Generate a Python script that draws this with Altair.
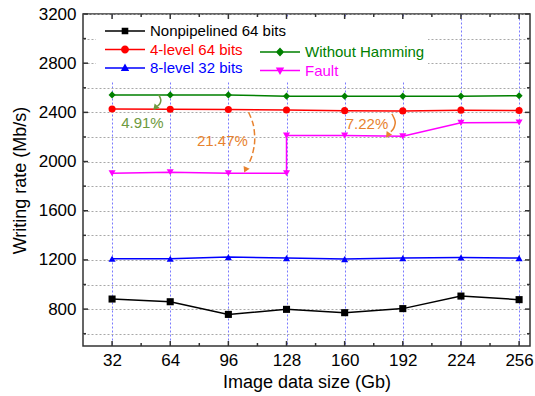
import altair as alt
import pandas as pd

# ---------------- data ----------------
sizes = [32, 64, 96, 128, 160, 192, 224, 256]
nonpipelined = [882, 860, 757, 798, 771, 804, 906, 877]
four_level = [2428, 2425, 2424, 2420, 2414, 2412, 2418, 2415]
eight_level = [1210, 1210, 1223, 1215, 1207, 1215, 1220, 1215]
without_hamming = [2542, 2542, 2542, 2532, 2532, 2532, 2532, 2535]
fault_sizes = [32, 64, 96, 128, 128, 160, 192, 224, 256]
fault = [1905, 1913, 1905, 1905, 2211, 2211, 2205, 2315, 2318]

series_names = ["Nonpipelined 64 bits", "4-level 64 bits", "8-level 32 bits",
                "Without Hamming", "Fault"]
series_colors = ["#000000", "#ff0000", "#0000ff", "#008000", "#ff00ff"]
series_shapes = ["square", "circle", "triangle-up", "diamond", "triangle-down"]
legend_paths = [
    "M-2,-0.07H2V0.07H-2Z M-0.33,-0.33H0.33V0.33H-0.33Z",
    "M-2,-0.07H2V0.07H-2Z M0.4,0A0.4,0.4,0,1,1,-0.4,0A0.4,0.4,0,1,1,0.4,0Z",
    "M-2,-0.07H2V0.07H-2Z M0,-0.45L0.42,0.3H-0.42Z",
    "M-2,-0.07H2V0.07H-2Z M0,-0.45L0.42,0L0,0.45L-0.42,0Z",
    "M-2,-0.07H2V0.07H-2Z M0,0.45L-0.42,-0.3H0.42Z",
]
legend_group_a = ["Nonpipelined 64 bits", "4-level 64 bits", "8-level 32 bits"]
legend_group_b = ["Without Hamming", "Fault"]

x_ticks_major = [32, 64, 96, 128, 160, 192, 224, 256]
x_ticks_minor = [48, 80, 112, 144, 176, 208, 240]
y_ticks_major = [800, 1200, 1600, 2000, 2400, 2800, 3200]
y_ticks_minor = [600, 1000, 1400, 1800, 2200, 2600, 3000]
y_grid = [600, 800, 1000, 1200, 1400, 1600, 1800, 2000, 2200, 2400, 2600, 2800, 3000, 3200]

# annotations (data coordinates)
ann_text = ["4.91%", "21.47%", "7.22%"]
ann_text_x = [48.7, 92.7, 172.3]
ann_text_y = [2317, 2171, 2306]
ann_text_color = ["#6e9a40", "#e8822e", "#e8822e"]

arrow_id = ["a"] * 4 + ["b"] * 5 + ["c"] * 4
arrow_x = [57.6, 58.8, 58.3, 56.9,
           107.1, 109.7, 110.5, 109.2, 107.0,
           186.0, 187.8, 187.0, 185.4]
arrow_y = [2544, 2504, 2471, 2451,
           2401, 2301, 2171, 2057, 1976,
           2388, 2325, 2272, 2244]
arrow_color = ["#6e9a40"] * 4 + ["#e8822e"] * 9
arrow_dash = ["solid"] * 4 + ["dashed"] * 5 + ["solid"] * 4
head_x = [56.1, 105.6, 184.0]
head_y = [2443, 1939, 2220]
head_angle = [222, 205, 215]
head_color = ["#6e9a40", "#e8822e", "#e8822e"]

# ---------------- tables ----------------
rows = []
for name, xs, ys in [
    (series_names[0], sizes, nonpipelined),
    (series_names[1], sizes, four_level),
    (series_names[2], sizes, eight_level),
    (series_names[3], sizes, without_hamming),
    (series_names[4], fault_sizes, fault),
]:
    for k, (xv, yv) in enumerate(zip(xs, ys)):
        rows.append({"series": name, "size": xv, "rate": yv, "k": k})
df = pd.DataFrame(rows)

ann_df = pd.DataFrame({"size": ann_text_x, "rate": ann_text_y, "t": ann_text, "c": ann_text_color})
arrow_df = pd.DataFrame({"id": arrow_id, "size": arrow_x, "rate": arrow_y, "c": arrow_color,
                         "d": arrow_dash, "k": list(range(len(arrow_x)))})
head_df = pd.DataFrame({"size": head_x, "rate": head_y, "a": head_angle, "c": head_color})

W, H = 447, 332
FONT = "Liberation Sans"
FRAME = "#333333"

xscale = alt.Scale(domain=[16, 262], nice=False, zero=False)
yscale = alt.Scale(domain=[500, 3200], nice=False, zero=False)

x_axis = alt.Axis(values=x_ticks_major, grid=True, gridColor="#7a7aff", gridDash=[2, 2],
                  gridWidth=1, ticks=False, domain=False, labelFontSize=17, labelFont=FONT,
                  labelColor="#000", labelPadding=6, labelFlush=False,
                  title="Image data size (Gb)", titleFont=FONT, titleFontSize=18,
                  titleFontWeight="normal", titleColor="#000", titlePadding=5)
y_axis = alt.Axis(values=y_grid, format="d",
                  labelExpr="datum.value % 400 == 0 ? datum.label : ''",
                  grid=True, gridColor="#a8a8a8", gridDash=[2, 2], gridWidth=1,
                  ticks=False, domain=False, labelFontSize=17, labelFont=FONT,
                  labelColor="#000", labelPadding=7, labelFlush=False, labelOverlap=False,
                  title="Writing rate (Mb/s)", titleFont=FONT, titleFontSize=18,
                  titleFontWeight="normal", titleColor="#000", titlePadding=9)

X = alt.X("size:Q", scale=xscale, axis=x_axis)
Y = alt.Y("rate:Q", scale=yscale, axis=y_axis)

# white box behind legend (hides the grid there)
legend_box = alt.Chart(pd.DataFrame({"v": [0]})).mark_rect(color="white").encode(
    x=alt.value(13), x2=alt.value(345), y=alt.value(4), y2=alt.value(67))

lines = alt.Chart(df).mark_line(strokeWidth=1.5).encode(
    x=X, y=Y,
    color=alt.Color("series:N", scale=alt.Scale(domain=series_names, range=series_colors), legend=None),
    order="k:Q",
)
points = alt.Chart(df).mark_point(filled=True, size=50, opacity=1).encode(
    x=X, y=Y,
    color=alt.Color("series:N", scale=alt.Scale(domain=series_names, range=series_colors), legend=None),
    shape=alt.Shape("series:N", scale=alt.Scale(domain=series_names, range=series_shapes), legend=None),
)

arrows = alt.Chart(arrow_df).mark_line(interpolate="cardinal", strokeWidth=1.5).encode(
    x=X, y=Y,
    detail="id:N",
    order="k:Q",
    color=alt.Color("c:N", scale=None),
    strokeDash=alt.StrokeDash("d:N", scale=alt.Scale(domain=["solid", "dashed"], range=[[1, 0], [6, 3]]), legend=None),
)
heads = alt.Chart(head_df).mark_point(shape="triangle", filled=True, size=45, opacity=1).encode(
    x=X, y=Y,
    angle=alt.Angle("a:Q", scale=None),
    color=alt.Color("c:N", scale=None),
)
texts = alt.Chart(ann_df).mark_text(fontSize=15, font=FONT, align="center", baseline="middle").encode(
    x=X, y=Y,
    text="t:N",
    color=alt.Color("c:N", scale=None),
)


def x_tick_layer(vals, y0, y1):
    return alt.Chart(pd.DataFrame({"size": vals})).mark_rule(color=FRAME, strokeWidth=1.5).encode(
        x=X, y=alt.value(y0), y2=alt.value(y1))


def y_tick_layer(vals, x0, x1):
    return alt.Chart(pd.DataFrame({"rate": vals})).mark_rule(color=FRAME, strokeWidth=1.5).encode(
        y=Y, x=alt.value(x0), x2=alt.value(x1))


ticks = [
    x_tick_layer(x_ticks_major, H, H - 5), x_tick_layer(x_ticks_minor, H, H - 3),
    x_tick_layer(x_ticks_major, 0, 5), x_tick_layer(x_ticks_minor, 0, 3),
    y_tick_layer(y_ticks_major, 0, 5), y_tick_layer(y_ticks_minor, 0, 3),
    y_tick_layer(y_ticks_major, W, W - 5), y_tick_layer(y_ticks_minor, W, W - 3),
]


def legend_layer(names, lx, ly):
    idx = [series_names.index(n) for n in names]
    cols = [series_colors[i] for i in idx]
    paths = [legend_paths[i] for i in idx]
    expr = "".join(f"datum.value == '{n}' ? '{c}' : " for n, c in zip(names, cols)) + "'#000'"
    lg = alt.Legend(orient="none", legendX=lx, legendY=ly, title=None, symbolSize=400,
                    symbolOpacity=1, symbolStrokeWidth=0, labelFontSize=15, labelFont=FONT,
                    labelOffset=15, rowPadding=0.5, padding=0, direction="vertical",
                    labelColor={"expr": expr}, labelLimit=300)
    d = df[df["series"].isin(names)]
    return alt.Chart(d).mark_point(filled=True, opacity=0).encode(
        x=X, y=Y,
        color=alt.Color("series:N", scale=alt.Scale(domain=names, range=cols), legend=lg, sort=names),
        shape=alt.Shape("series:N", scale=alt.Scale(domain=names, range=paths), legend=lg, sort=names),
    )


leg_a = legend_layer(legend_group_a, 32, 7)
leg_b = legend_layer(legend_group_b, 187, 28)

chart = alt.layer(legend_box, lines, points, arrows, heads, texts, *ticks, leg_a, leg_b).resolve_scale(
    color="independent", shape="independent"
).properties(
    width=W, height=H,
    autosize=alt.AutoSizeParams(type="none"),
    padding={"left": 83, "top": 14, "right": 5, "bottom": 50},
    background="white",
).configure_view(stroke=FRAME, strokeWidth=1.5)

chart.save("out.html", embed_options={"renderer": "svg", "actions": False})
